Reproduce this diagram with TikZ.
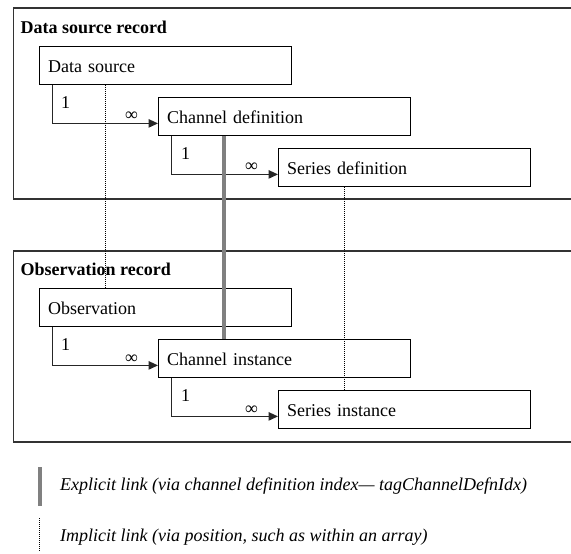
\documentclass[tikz,border=0pt]{standalone}
\usepackage{fontspec}
\setmainfont{Liberation Serif}
\usetikzlibrary{arrows.meta}
\begin{document}
\begin{tikzpicture}[x=1pt,y=-1pt,
  every node/.style={font=\fontsize{18}{21}\selectfont},
  recbox/.style={draw=black!80, line width=1.6pt, anchor=north west, minimum width=600pt, inner sep=0pt},
  tblbox/.style={draw=black, line width=1.4pt, anchor=north west, minimum width=252pt, minimum height=37.5pt, text width=235pt, inner xsep=8.5pt, inner ysep=0pt, align=left, text height=14.5pt, text depth=0pt},
  rectitle/.style={anchor=base west, inner sep=0pt, font=\fontsize{18}{21}\selectfont\bfseries},
  card/.style={anchor=base west, inner sep=0pt},
  conn/.style={draw=black!85, line width=1.2pt, -{Triangle[length=9.5pt,width=8.5pt]}},
  explicit/.style={draw=black!50, line width=4pt},
  implicit/.style={draw=black, line width=0.9pt, dash pattern=on 1pt off 1pt},
  legendtext/.style={anchor=base west, inner sep=0pt, font=\fontsize{18}{21}\selectfont\itshape}]
\useasboundingbox (0,0) rectangle (571,554);

% record frames
\node[recbox, minimum height=191pt] (dsrec) at (12.5,7) {};
\node[recbox, minimum height=191pt] (obsrec) at (12.5,250) {};
\node[rectitle] (dstitle) at (20.5,33) {Data source record};
\node[rectitle] (obtitle) at (20.5,275) {Observation record};

% tables
\node[tblbox] (ds) at (39,46) {Data source};
\node[tblbox] (cd) at (158,97) {Channel definition};
\node[tblbox] (sd) at (278,148) {Series definition};
\node[tblbox] (ob) at (39,288) {Observation};
\node[tblbox] (ci) at (158,339) {Channel instance};
\node[tblbox] (si) at (278,390) {Series instance};

% one-to-many connectors
\draw[conn] ([xshift=13.5pt]ds.south west) |- ([yshift=12.5pt]cd.south west);
\draw[conn] ([xshift=13.5pt]cd.south west) |- ([yshift=12.5pt]sd.south west);
\draw[conn] ([xshift=13.5pt]ob.south west) |- ([yshift=12.5pt]ci.south west);
\draw[conn] ([xshift=13.5pt]ci.south west) |- ([yshift=12.5pt]si.south west);

\node[card] (c1a) at (61,108) {1};
\node[card] (c1b) at (125,120) {∞};
\node[card] (c2a) at (181,159) {1};
\node[card] (c2b) at (245,171) {∞};
\node[card] (c3a) at (61,350) {1};
\node[card] (c3b) at (125,363) {∞};
\node[card] (c4a) at (181,401) {1};
\node[card] (c4b) at (245,414) {∞};

% links between records
\draw[explicit] ([xshift=66pt]cd.south west) -- ([xshift=66pt]ci.north west);
\draw[implicit] ([xshift=66pt]ds.south west) -- ([xshift=66pt]ob.north west);
\draw[implicit] ([xshift=66.5pt]sd.south west) -- ([xshift=66.5pt]si.north west);

% legend
\coordinate (ea) at (40,467);
\coordinate (eb) at (40,506);
\draw[explicit] (ea) -- (eb);
\node[legendtext] (et) at (60,490) {Explicit link (via channel definition index— tagChannelDefnIdx)};
\coordinate (ia) at (39,518);
\coordinate (ib) at (39,552);
\draw[implicit] (ia) -- (ib);
\node[legendtext] (it) at (60,541) {Implicit link (via position, such as within an array)};
\end{tikzpicture}
\end{document}
